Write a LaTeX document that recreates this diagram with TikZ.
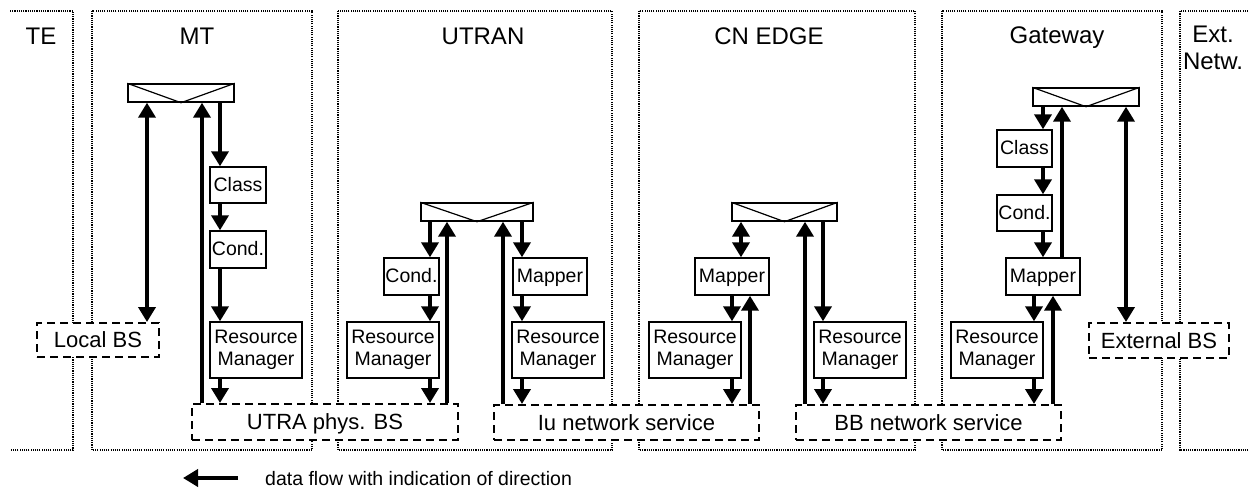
\documentclass[tikz,border=0pt]{standalone}
\usepackage{fontspec}
\setmainfont{Liberation Sans}
\usetikzlibrary{arrows.meta}
\begin{document}
\begin{tikzpicture}[x=1pt,y=-1pt,
  container/.style={draw=black,line width=1.1pt,dash pattern=on 1.1pt off 1.1pt},
  hdr/.style={inner sep=0pt,anchor=base,font=\fontsize{24}{27}\selectfont},
  blk/.style={draw,line width=1.4pt,fill=white,inner sep=0pt,font=\fontsize{19.5}{22}\selectfont,text height=14pt,text depth=1.5pt},
  blk2/.style={draw,line width=1.4pt,fill=white,inner sep=0pt,align=center,font=\fontsize{19.5}{22}\selectfont,minimum width=92pt,minimum height=56pt},
  bs/.style={draw,line width=2pt,dash pattern=on 8pt off 5pt,fill=white,inner sep=0pt,font=\fontsize{22}{24}\selectfont,text height=15.8pt,text depth=0pt},
  sw/.style={draw,line width=1.4pt,fill=white,inner sep=0pt,minimum height=18pt},
  arr/.style={line width=4.3pt,-{Triangle[width=17pt,length=15pt]}},
  darr/.style={line width=4.3pt,{Triangle[width=17pt,length=15pt]}-{Triangle[width=17pt,length=15pt]}}
]
\useasboundingbox (0,0) rectangle (1248,488);
% containers
\draw[container] (10,11) -- (73,11) -- (73,450) -- (10,450);
\draw[container] (92,11) rectangle (312,450);
\draw[container] (338,11) rectangle (612,450);
\draw[container] (639,11) rectangle (915,450);
\draw[container] (942,11) rectangle (1162,450);
\draw[container] (1248,11) -- (1180,11) -- (1180,450) -- (1248,450);
% headers
\node[hdr] (hTE) at (41,44) {TE};
\node[hdr] (hMT) at (197,44) {MT};
\node[hdr] (hUT) at (483,44) {UTRAN};
\node[hdr] (hCN) at (769,44) {CN EDGE};
\node[hdr] (hGW) at (1057,43.5) {Gateway};
\node[inner sep=0pt,align=center,font=\fontsize{24}{27}\selectfont] (hEX) at (1213,48) {Ext.\\Netw.};
% switches
\node[sw,minimum width=106pt] (swMT) at (181,93) {};
\node[sw,minimum width=112pt] (swU) at (477,212) {};
\node[sw,minimum width=105pt] (swC) at (784.5,212) {};
\node[sw,minimum width=106pt] (swG) at (1086,97) {};
\foreach \s in {swMT,swU,swC,swG}{
  \draw[line width=1.2pt] (\s.north west) -- (\s.south) -- (\s.north east);
}
% MT blocks
\node[blk,minimum width=56pt,minimum height=36pt] (clsMT) at (238,185) {Class};
\node[blk,minimum width=56pt,minimum height=37pt] (cndMT) at (238,249.5) {Cond.};
\node[blk2] (rmMT) at (256,350) {Resource\\Manager};
% UTRAN blocks
\node[blk,minimum width=55pt,minimum height=37pt] (cndU) at (411.5,276.5) {Cond.};
\node[blk2] (rmU1) at (393,350) {Resource\\Manager};
\node[blk,minimum width=74pt,minimum height=37pt] (mapU) at (550,276.5) {Mapper};
\node[blk2] (rmU2) at (558,350) {Resource\\Manager};
% CN blocks
\node[blk,minimum width=74pt,minimum height=37pt] (mapC) at (732,276.5) {Mapper};
\node[blk2] (rmC1) at (695,350) {Resource\\Manager};
\node[blk2] (rmC2) at (860,350) {Resource\\Manager};
% Gateway blocks
\node[blk,minimum width=55pt,minimum height=37pt] (clsG) at (1024.5,148.5) {Class};
\node[blk,minimum width=55pt,minimum height=36pt] (cndG) at (1024.5,213) {Cond.};
\node[blk,minimum width=74pt,minimum height=37pt] (mapG) at (1043,276.5) {Mapper};
\node[blk2] (rmG) at (997,350) {Resource\\Manager};
% bearer services
\node[bs,minimum width=122pt,minimum height=34pt] (lbs) at (98,340) {Local BS};
\node[bs,minimum width=266pt,minimum height=36pt] (utra) at (325,422) {UTRA phys. BS};
\node[bs,minimum width=265pt,minimum height=35pt] (iu) at (626.5,422.5) {Iu network service};
\node[bs,minimum width=265pt,minimum height=35pt] (bb) at (928.5,422.5) {BB network service};
\node[bs,minimum width=140pt,minimum height=35pt] (ebs) at (1159,340.5) {External BS};
% MT arrows
\draw[darr] (swMT.south -| 147,0) -- (lbs.north -| 147,0);
\draw[arr] (utra.north -| 202,0) -- (swMT.south -| 202,0);
\draw[arr] (swMT.south -| 220,0) -- (clsMT.north -| 220,0);
\draw[arr] (clsMT.south -| 220,0) -- (cndMT.north -| 220,0);
\draw[arr] (cndMT.south -| 220,0) -- (rmMT.north -| 220,0);
\draw[arr] (rmMT.south -| 220,0) -- (utra.north -| 220,0);
% UTRAN arrows
\draw[arr] (swU.south -| 430,0) -- (cndU.north -| 430,0);
\draw[arr] (cndU.south -| 430,0) -- (rmU1.north -| 430,0);
\draw[arr] (rmU1.south -| 430,0) -- (utra.north -| 430,0);
\draw[arr] (utra.north -| 447,0) -- (swU.south -| 447,0);
\draw[arr] (iu.north -| 503,0) -- (swU.south -| 503,0);
\draw[arr] (swU.south -| 522,0) -- (mapU.north -| 522,0);
\draw[arr] (mapU.south -| 522,0) -- (rmU2.north -| 522,0);
\draw[arr] (rmU2.south -| 522,0) -- (iu.north -| 522,0);
% CN arrows
\draw[darr] (swC.south -| 741,0) -- (mapC.north -| 741,0);
\draw[arr] (mapC.south -| 732,0) -- (rmC1.north -| 732,0);
\draw[arr] (rmC1.south -| 732,0) -- (iu.north -| 732,0);
\draw[arr] (iu.north -| 750,0) -- (mapC.south -| 750,0);
\draw[arr] (bb.north -| 805,0) -- (swC.south -| 805,0);
\draw[arr] (swC.south -| 823,0) -- (rmC2.north -| 823,0);
\draw[arr] (rmC2.south -| 823,0) -- (bb.north -| 823,0);
% Gateway arrows
\draw[arr] (swG.south -| 1043,0) -- (clsG.north -| 1043,0);
\draw[arr] (clsG.south -| 1043,0) -- (cndG.north -| 1043,0);
\draw[arr] (cndG.south -| 1043,0) -- (mapG.north -| 1043,0);
\draw[arr] (mapG.south -| 1034,0) -- (rmG.north -| 1034,0);
\draw[arr] (rmG.south -| 1034,0) -- (bb.north -| 1034,0);
\draw[arr] (bb.north -| 1053,0) -- (mapG.south -| 1053,0);
\draw[arr] (mapG.north -| 1062,0) -- (swG.south -| 1062,0);
\draw[darr] (swG.south -| 1126,0) -- (ebs.north -| 1126,0);
% legend
\coordinate (legT) at (238,478);
\coordinate (legH) at (183,478);
\draw[arr] (legT) -- (legH);
\node[inner sep=0pt,anchor=base west,font=\fontsize{19.5}{22}\selectfont] (leg) at (265,485) {data flow with indication of direction};
\end{tikzpicture}
\end{document}
